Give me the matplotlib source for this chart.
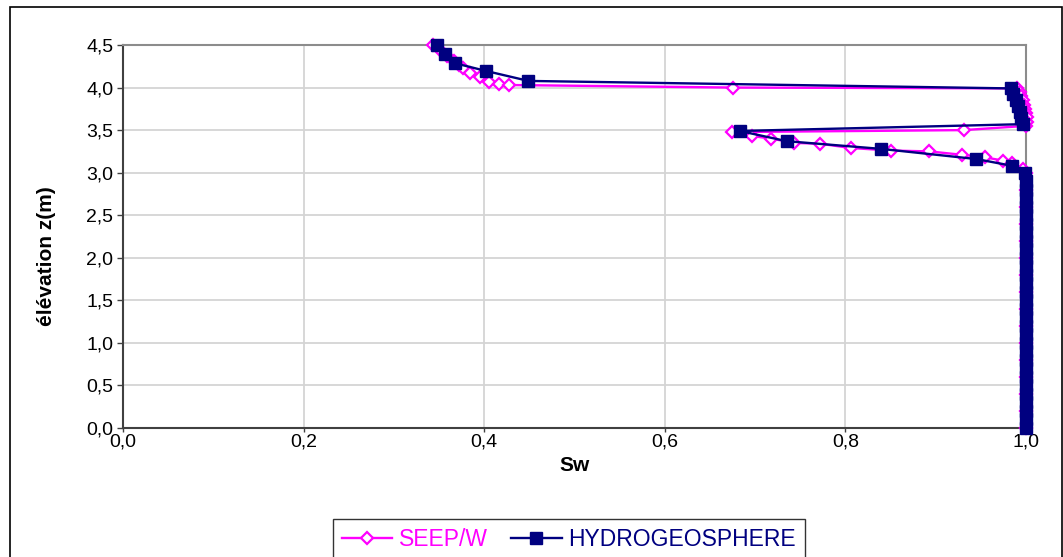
import matplotlib
matplotlib.use("Agg")
import matplotlib.pyplot as plt
from matplotlib.patches import Rectangle

plt.rcParams['font.family'] = ['Liberation Sans', 'DejaVu Sans']

# saturation profiles (Sw vs elevation z in m)
seep_sw = [0.343, 0.352, 0.359, 0.367, 0.372, 0.377, 0.384, 0.395, 0.405, 0.416, 0.427,
           0.675, 0.990, 0.993, 0.995, 0.997, 0.998, 0.999, 1.000, 1.001, 1.001, 1.000,
           0.931, 0.674, 0.697, 0.718, 0.743, 0.772, 0.806, 0.850, 0.893, 0.929, 0.955,
           0.975, 0.984, 0.997, 1.000,
           1.000, 1.000, 1.000, 1.000, 1.000, 1.000, 1.000, 1.000, 1.000, 1.000,
           1.000, 1.000, 1.000, 1.000, 1.000]
seep_z = [4.50, 4.43, 4.37, 4.31, 4.27, 4.23, 4.17, 4.12, 4.07, 4.04, 4.03,
          4.00, 3.99, 3.95, 3.90, 3.85, 3.80, 3.75, 3.70, 3.65, 3.60, 3.55,
          3.50, 3.477, 3.43, 3.40, 3.35, 3.34, 3.29, 3.26, 3.25, 3.21, 3.18,
          3.14, 3.11, 3.04, 3.00,
          2.80, 2.60, 2.40, 2.20, 2.00, 1.80, 1.60, 1.40, 1.20, 1.00,
          0.80, 0.60, 0.40, 0.20, 0.00]

hydro_sw = [0.348, 0.357, 0.368, 0.402, 0.449, 0.983, 0.986, 0.989, 0.991, 0.993,
            0.995, 0.997, 0.683, 0.735, 0.839, 0.945, 0.985, 0.999,
            1.0, 1.0, 1.0, 1.0, 1.0, 1.0, 1.0, 1.0, 1.0, 1.0,
            1.0, 1.0, 1.0, 1.0, 1.0, 1.0, 1.0, 1.0, 1.0, 1.0,
            1.0, 1.0, 1.0, 1.0, 1.0, 1.0, 1.0, 1.0, 1.0, 1.0]
hydro_z = [4.50, 4.39, 4.285, 4.195, 4.078, 3.99, 3.92, 3.85, 3.78, 3.71,
           3.64, 3.57, 3.49, 3.37, 3.28, 3.16, 3.08, 3.00,
           2.9, 2.8, 2.7, 2.6, 2.5, 2.4, 2.3, 2.2, 2.1, 2.0,
           1.9, 1.8, 1.7, 1.6, 1.5, 1.4, 1.3, 1.2, 1.1, 1.0,
           0.9, 0.8, 0.7, 0.6, 0.5, 0.4, 0.3, 0.2, 0.1, 0.0]

x_ticks = [0.0, 0.2, 0.4, 0.6, 0.8, 1.0]
y_ticks = [0.0, 0.5, 1.0, 1.5, 2.0, 2.5, 3.0, 3.5, 4.0, 4.5]

magenta = '#FF00FF'
navy = '#000080'

fig = plt.figure(figsize=(10.63, 5.57), dpi=100)
ax = fig.add_axes([123 / 1063, 1 - 428 / 557, 903 / 1063, 383 / 557])

ax.plot(seep_sw, seep_z, color=magenta, lw=1.7, marker='D', ms=6,
        mfc='white', mec=magenta, mew=1.6, label='SEEP/W', clip_on=False, zorder=3)
ax.plot(hydro_sw, hydro_z, color=navy, lw=1.7, marker='s', ms=8,
        mfc=navy, mec=navy, label='HYDROGEOSPHERE', clip_on=False, zorder=4)

ax.set_xlim(0, 1.0)
ax.set_ylim(0, 4.5)
ax.set_xticks(x_ticks)
ax.set_yticks(y_ticks)
ax.set_xticklabels([f'{v:.1f}'.replace('.', ',') for v in x_ticks])
ax.set_yticklabels([f'{v:.1f}'.replace('.', ',') for v in y_ticks])
ax.tick_params(labelsize=14, length=4, width=1, color='#404040')
ax.tick_params(axis='y', pad=3)
ax.tick_params(axis='x', length=3, pad=1)

ax.grid(True, color='#D4D4D4', lw=1.3)
ax.set_axisbelow(True)
for side in ['top', 'right']:
    ax.spines[side].set_color('#8C8C8C')
    ax.spines[side].set_linewidth(1.5)
for side in ['left', 'bottom']:
    ax.spines[side].set_color('#404040')
    ax.spines[side].set_linewidth(1.5)

ax.set_xlabel('Sw', fontsize=15, fontweight='bold')
ax.set_ylabel('élévation z(m)', fontsize=15, fontweight='bold')
ax.xaxis.set_label_coords(0.5, -0.073)
ax.yaxis.set_label_coords(-0.074, 0.45)

leg = fig.legend(loc='upper center', bbox_to_anchor=(569 / 1063, 1 - 519 / 557),
                 ncol=2, fontsize=16.5, frameon=True, fancybox=False,
                 edgecolor='black', handlelength=2.2, columnspacing=1.0,
                 handletextpad=0.3, borderpad=0.4, borderaxespad=0)
leg.get_frame().set_linewidth(1.0)
for txt, col in zip(leg.get_texts(), [magenta, navy]):
    txt.set_color(col)

# chart area border
fig.patches.append(Rectangle((9.5 / 1063, -0.05), 1052 / 1063, 1.05 - 6.5 / 557,
                             transform=fig.transFigure, fill=False,
                             edgecolor='black', lw=1.2))

fig.savefig('out.png', dpi=100)
